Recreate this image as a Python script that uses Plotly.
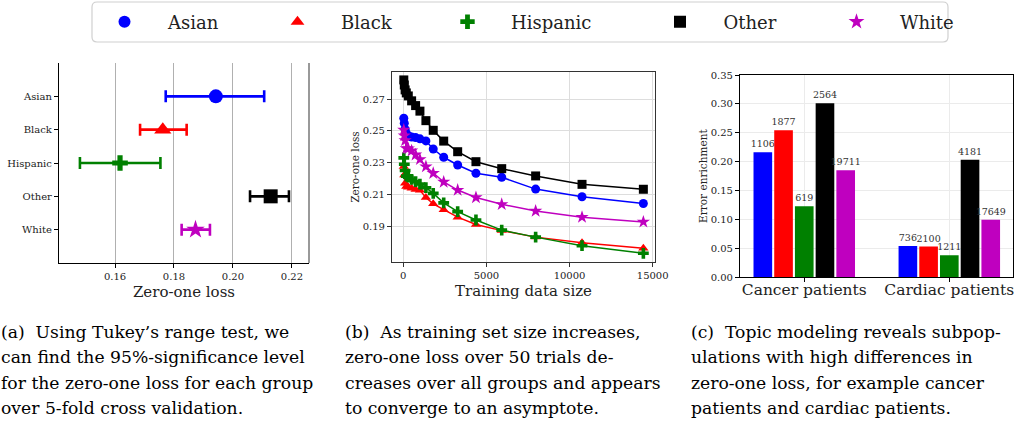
import plotly.graph_objects as go

FONT = "DejaVu Serif"

# ---------------- data ----------------
groups = ["Asian", "Black", "Hispanic", "Other", "White"]
colors = ["#0000ff", "#ff0000", "#008000", "#000000", "#bf00bf"]
sym_a = ["circle", "triangle-up", "cross", "square", "star"]

# (a) Tukey range test: mean and 95% interval
a_mean = [0.1942, 0.1762, 0.1617, 0.2128, 0.1873]
a_low = [0.1772, 0.1685, 0.1481, 0.2058, 0.1826]
a_high = [0.2106, 0.1843, 0.1754, 0.2190, 0.1922]

# (b) learning curves
train_size = [30, 60, 110, 180, 300, 500, 740, 1000, 1360, 1800, 2430,
              3270, 4370, 5920, 7960, 10750, 14440]
loss_asian = [0.2580, 0.2549, 0.2511, 0.2485, 0.2470, 0.2462, 0.2458, 0.2450,
              0.2437, 0.2386, 0.2334, 0.2285, 0.2233, 0.2208, 0.2133, 0.2085, 0.2042]
loss_black = [0.2275, 0.2222, 0.2170, 0.2150, 0.2145, 0.2138, 0.2130, 0.2125,
              0.2080, 0.2040, 0.2002, 0.1956, 0.1910, 0.1871, 0.1830, 0.1795, 0.1760]
loss_hispanic = [0.2330, 0.2290, 0.2250, 0.2215, 0.2208, 0.2195, 0.2180, 0.2165,
                 0.2142, 0.2106, 0.2046, 0.1991, 0.1938, 0.1874, 0.1830, 0.1776, 0.1728]
loss_other = [0.2822, 0.2790, 0.2759, 0.2740, 0.2721, 0.2690, 0.2660, 0.2625,
              0.2565, 0.2504, 0.2436, 0.2369, 0.2306, 0.2262, 0.2216, 0.2163, 0.2132]
loss_white = [0.2506, 0.2470, 0.2440, 0.2390, 0.2388, 0.2375, 0.2350, 0.2321,
              0.2275, 0.2233, 0.2178, 0.2127, 0.2080, 0.2037, 0.1995, 0.1956, 0.1926]
b_losses = [loss_asian, loss_black, loss_hispanic, loss_other, loss_white]

# (c) error enrichment
topics = ["Cancer patients", "Cardiac patients"]
enrich = {
    "Asian": [0.2162, 0.0543],
    "Black": [0.2543, 0.0532],
    "Hispanic": [0.1231, 0.0382],
    "Other": [0.3012, 0.2035],
    "White": [0.1850, 0.0994],
}
counts = {
    "Asian": ["1106", "736"],
    "Black": ["1877", "2100"],
    "Hispanic": ["619", "1211"],
    "Other": ["2564", "4181"],
    "White": ["19711", "17649"],
}

captions_a = ["(a)  Using Tukey\u2019s range test, we",
              "can find the 95%-significance level",
              "for the zero-one loss for each group",
              "over 5-fold cross validation."]
captions_b = ["(b)  As training set size increases,",
              "zero-one loss over 50 trials de-",
              "creases over all groups and appears",
              "to converge to an asymptote."]
captions_c = ["(c)  Topic modeling reveals subpop-",
              "ulations with high differences in",
              "zero-one loss, for example cancer",
              "patients and cardiac patients."]

# ---------------- layout helpers ----------------
W, H = 1017, 425
def px(x):
    return x / W
def py(y):
    return 1 - y / H

fig = go.Figure()

# one legend box per group, left edges in px
legend_names = ["legend", "legend2", "legend3", "legend4", "legend5"]
legend_left = [81, 254, 424, 636.5, 813]

# (a)
a_sizes = [14, 15, 13, 14, 14]
for i, g in enumerate(groups):
    fig.add_trace(go.Scatter(
        x=[a_mean[i]], y=[g], mode="markers", name=g,
        marker=dict(symbol=sym_a[i], size=a_sizes[i], color=colors[i]),
        error_x=dict(type="data", symmetric=False,
                     array=[a_high[i] - a_mean[i]],
                     arrayminus=[a_mean[i] - a_low[i]],
                     color=colors[i], thickness=2.6, width=6),
        xaxis="x", yaxis="y", showlegend=True, legend=legend_names[i],
    ))

# (b)
b_sizes = [9, 9, 9, 9, 10]
for i, g in enumerate(groups):
    fig.add_trace(go.Scatter(
        x=train_size, y=b_losses[i], mode="lines+markers", name=g,
        line=dict(color=colors[i], width=1.5),
        marker=dict(symbol=sym_a[i], size=b_sizes[i], color=colors[i]),
        xaxis="x2", yaxis="y2", showlegend=False,
    ))

# (c)
for i, g in enumerate(groups):
    fig.add_trace(go.Bar(
        x=topics, y=enrich[g], name=g, text=counts[g],
        textposition="outside", constraintext="none", cliponaxis=False,
        textfont=dict(family=FONT, size=9.5, color="#333333"),
        marker=dict(color=colors[i], line=dict(width=0)),
        xaxis="x3", yaxis="y3", showlegend=False,
    ))

tickfont = dict(family=FONT, size=10, color="#222222")
legfont = dict(family=FONT, size=18, color="#222222")

legends = {}
for name, left in zip(legend_names, legend_left):
    legends[name] = dict(
        orientation="h", x=px(left), y=py(22), xanchor="left", yanchor="middle",
        font=legfont, borderwidth=0, bgcolor="rgba(0,0,0,0)",
        itemsizing="constant", itemwidth=77,
    )

fig.update_layout(
    width=W, height=H,
    margin=dict(l=0, r=0, t=0, b=0, autoexpand=False),
    paper_bgcolor="white", plot_bgcolor="white",
    font=dict(family=FONT, color="#222222"),
    barmode="group", bargap=0.286, bargroupgap=0.1,
    showlegend=True,
    **legends,
    # panel a
    xaxis=dict(domain=[px(59), px(309)], range=[0.141, 0.2258],
               tickvals=[0.16, 0.18, 0.20, 0.22],
               ticktext=["0.16", "0.18", "0.20", "0.22"],
               showgrid=True, gridcolor="#b0b0b0", gridwidth=1,
               showline=True, linecolor="#000000", linewidth=1.2,
               ticks="outside", ticklen=4, tickcolor="#000000",
               tickfont=tickfont, zeroline=False,
               title=dict(text="Zero-one loss", standoff=5,
                          font=dict(family=FONT, size=15, color="#222222")),
               anchor="y"),
    yaxis=dict(domain=[py(263), py(63)], type="category",
               categoryorder="array", categoryarray=groups,
               range=[5, -1], showgrid=False,
               showline=True, linecolor="#000000", linewidth=1.2,
               ticks="outside", ticklen=4, tickcolor="#000000",
               tickfont=tickfont, anchor="x"),
    # panel b
    xaxis2=dict(domain=[px(392), px(655)], range=[-680, 15140],
                tickvals=[0, 5000, 10000, 15000],
                ticktext=["0", "5000", "10000", "15000"],
                showgrid=True, gridcolor="#dddddd", gridwidth=1,
                showline=True, mirror=True, linecolor="#333333", linewidth=1.2,
                ticks="outside", ticklen=4, tickcolor="#333333",
                tickfont=tickfont, zeroline=False,
                title=dict(text="Training data size", standoff=5,
                           font=dict(family=FONT, size=15, color="#222222")),
                anchor="y2"),
    yaxis2=dict(domain=[py(262), py(72)], range=[0.1673, 0.2872],
                tickvals=[0.19, 0.21, 0.23, 0.25, 0.27],
                ticktext=["0.19", "0.21", "0.23", "0.25", "0.27"],
                showgrid=True, gridcolor="#dddddd", gridwidth=1,
                showline=True, mirror=True, linecolor="#333333", linewidth=1.2,
                ticks="outside", ticklen=4, tickcolor="#333333",
                tickfont=tickfont, zeroline=False,
                title=dict(text="Zero-one loss", standoff=0,
                           font=dict(family=FONT, size=10.5, color="#222222")),
                anchor="x2"),
    # panel c
    xaxis3=dict(domain=[px(740), px(1012.7)], type="category",
                range=[-0.443, 1.437],
                showgrid=True, gridcolor="#ebebeb", gridwidth=1,
                showline=True, mirror=True, linecolor="#000000", linewidth=1.2,
                ticks="outside", ticklen=4, tickcolor="#000000",
                ticklabelstandoff=-6,
                tickfont=dict(family=FONT, size=15.5, color="#222222"),
                anchor="y3"),
    yaxis3=dict(domain=[py(277.3), py(75)], range=[0, 0.35],
                dtick=0.05, tickformat=".2f",
                showgrid=True, gridcolor="#ebebeb", gridwidth=1,
                showline=True, mirror=True, linecolor="#000000", linewidth=1.2,
                ticks="outside", ticklen=4, tickcolor="#000000",
                tickfont=tickfont, zeroline=False,
                title=dict(text="Error enrichment", standoff=0,
                           font=dict(family=FONT, size=10.5, color="#222222")),
                anchor="x3"),
)

# right spine of panel a (grey)
fig.add_shape(type="line", xref="x domain", yref="y domain",
              x0=1, x1=1, y0=0, y1=1,
              line=dict(color="#777777", width=1.5))

# rounded legend frame
x0, x1, y0, y1 = px(92), px(948), py(42), py(2)
rx, ry = px(5), 5 / H
frame = (f"M {x0+rx},{y1} L {x1-rx},{y1} Q {x1},{y1} {x1},{y1-ry} "
         f"L {x1},{y0+ry} Q {x1},{y0} {x1-rx},{y0} L {x0+rx},{y0} "
         f"Q {x0},{y0} {x0},{y0+ry} L {x0},{y1-ry} Q {x0},{y1} {x0+rx},{y1} Z")
fig.add_shape(type="path", path=frame, xref="paper", yref="paper",
              line=dict(color="#d0d0d0", width=1.2), fillcolor="rgba(0,0,0,0)",
              layer="below")

# captions
line_y = [332, 357, 383, 408]
for xs, lines in [(-1, captions_a), (343, captions_b), (689, captions_c)]:
    for k, t in enumerate(lines):
        fig.add_annotation(text=t, xref="paper", yref="paper",
                           x=px(xs), y=py(line_y[k]), xanchor="left",
                           yanchor="middle", showarrow=False,
                           font=dict(family=FONT, size=17.2, color="#000000"))

fig.write_html(
    "out.html",
    config={"displayModeBar": False},
    post_script="document.body.style.margin='0';document.body.style.overflow='hidden';",
)
